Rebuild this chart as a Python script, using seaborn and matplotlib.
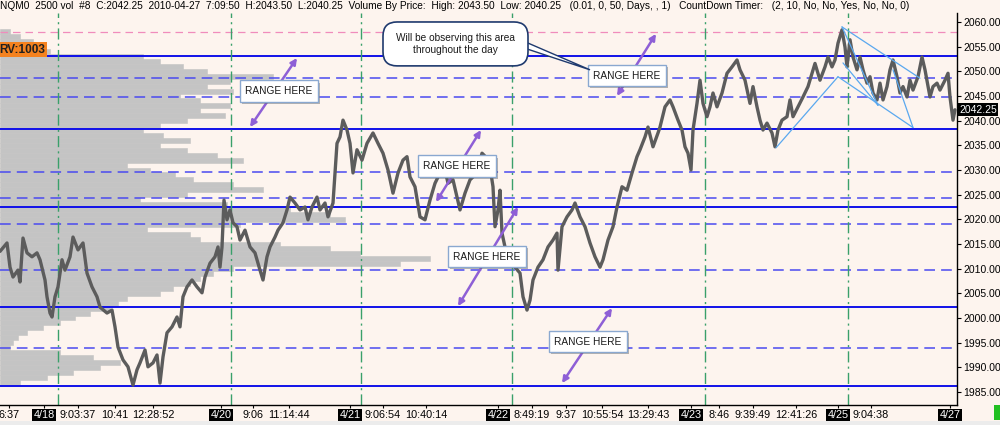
import numpy as np
import pandas as pd
import matplotlib
matplotlib.use("Agg")
import matplotlib.pyplot as plt
import matplotlib.patheffects as pe
from matplotlib.patches import FancyBboxPatch, Polygon, Rectangle
import seaborn as sns

# ---------------- data ----------------
bar_idx = [0, 7, 10, 13, 18, 20, 23, 27, 32, 37, 40, 43, 45, 47, 50, 52, 55, 58, 62, 65,
           70, 73, 78, 83, 87, 92, 97, 100, 107, 112, 115, 118, 123, 128, 133, 137, 140, 145, 148, 153,
           157, 160, 163, 167, 172, 177, 180, 183, 187, 192, 197, 202, 205, 210, 215, 218, 220, 222, 224, 227,
           230, 233, 237, 240, 245, 250, 255, 260, 263, 267, 270, 275, 278, 283, 287, 290, 295, 300, 305, 308,
           312, 317, 320, 325, 328, 333, 337, 340, 343, 347, 350, 353, 357, 362, 367, 373, 378, 383, 388, 393,
           398, 403, 407, 410, 415, 420, 425, 430, 435, 440, 445, 448, 453, 457, 460, 465, 470, 477, 482, 487,
           490, 493, 495, 498, 500, 502, 505, 510, 515, 520, 523, 527, 530, 533, 538, 543, 548, 553, 557, 558,
           562, 567, 572, 575, 580, 585, 590, 595, 600, 603, 608, 613, 617, 622, 627, 632, 637, 640, 645, 648,
           653, 658, 660, 665, 670, 673, 678, 682, 685, 688, 691, 693, 697, 700, 703, 707, 710, 713, 717, 722,
           727, 732, 737, 740, 745, 750, 753, 757, 760, 763, 767, 772, 775, 778, 782, 787, 790, 793, 798, 803,
           808, 812, 815, 820, 825, 828, 832, 835, 838, 842, 845, 847, 850, 853, 857, 860, 863, 867, 870, 873,
           877, 880, 883, 887, 890, 893, 897, 900, 903, 907, 910, 913, 918, 922, 925, 930, 933, 937, 940, 945,
           948, 950, 953, 955]
price = [2013.5, 2015.2, 2010.3, 2008.3, 2009.7, 2007.3, 2016.2, 2013.2, 2012.4, 2013.2, 2011.8, 2009.3, 2007.7, 2004.3, 2001.0, 2000.2, 2004.3, 2006.3, 2011.8, 2009.7,
         2012.4, 2016.4, 2013.8, 2015.2, 2009.1, 2006.3, 2004.3, 2002.2, 2001.0, 2001.6, 1998.2, 1994.1, 1991.5, 1990.1, 1986.4, 1989.5, 1990.9, 1993.5, 1990.1, 1990.9,
         1992.5, 1986.8, 1992.1, 1997.0, 1998.2, 2000.2, 1998.2, 2004.3, 2006.3, 2007.7, 2006.3, 2005.1, 2008.3, 2011.1, 2012.4, 2014.4, 2010.3, 2014.4, 2023.9, 2019.9,
         2021.9, 2019.3, 2018.5, 2015.8, 2017.8, 2014.4, 2013.2, 2009.7, 2007.7, 2012.4, 2014.4, 2016.4, 2017.8, 2019.3, 2021.9, 2024.5, 2023.3, 2021.9, 2022.5, 2019.9,
         2022.5, 2024.5, 2021.9, 2023.3, 2020.5, 2023.3, 2035.4, 2036.7, 2040.1, 2038.1, 2035.4, 2029.4, 2034.1, 2032.0, 2035.4, 2037.5, 2035.4, 2033.4, 2030.0, 2025.3,
         2029.4, 2032.0, 2032.7, 2028.6, 2026.6, 2020.5, 2019.9, 2023.9, 2027.3, 2029.4, 2030.0, 2027.3, 2028.0, 2024.5, 2021.9, 2025.3, 2028.0, 2029.4, 2033.4, 2032.4,
         2030.6, 2026.6, 2018.5, 2021.9, 2025.9, 2017.2, 2014.4, 2011.8, 2010.3, 2009.1, 2004.3, 2001.6, 2003.6, 2007.7, 2010.3, 2011.8, 2014.4, 2015.8, 2017.2, 2009.7,
         2018.5, 2020.5, 2021.9, 2023.3, 2020.5, 2018.5, 2015.2, 2012.4, 2010.3, 2011.8, 2015.8, 2018.5, 2022.5, 2026.6, 2025.9, 2029.4, 2032.7, 2034.1, 2036.7, 2038.7,
         2034.7, 2037.5, 2038.7, 2042.8, 2044.2, 2042.8, 2040.1, 2038.1, 2034.7, 2033.4, 2030.0, 2038.1, 2043.5, 2048.2, 2043.5, 2040.8, 2042.8, 2045.6, 2042.8, 2045.6,
         2049.6, 2050.9, 2052.3, 2050.3, 2048.2, 2043.5, 2046.9, 2042.8, 2040.1, 2038.1, 2039.5, 2037.5, 2034.7, 2038.1, 2040.1, 2040.8, 2044.2, 2040.8, 2042.8, 2044.8,
         2046.9, 2049.6, 2051.6, 2048.2, 2050.9, 2052.9, 2050.9, 2052.3, 2055.7, 2058.4, 2054.9, 2050.9, 2056.4, 2052.9, 2050.3, 2052.9, 2050.3, 2047.6, 2048.9, 2045.6,
         2044.2, 2047.6, 2044.2, 2046.9, 2050.3, 2052.3, 2048.9, 2045.6, 2046.9, 2044.8, 2048.2, 2046.2, 2048.9, 2052.9, 2050.3, 2044.8, 2046.9, 2047.6, 2046.2, 2048.2,
         2049.6, 2044.8, 2040.1, 2042.2]

profile_price = [2058, 2057, 2056, 2055, 2054, 2053, 2052, 2051, 2050, 2049, 2048, 2047, 2046, 2045, 2044, 2043, 2042, 2041, 2040, 2039,
                 2038, 2037, 2036, 2035, 2034, 2033, 2032, 2031, 2030, 2029, 2028, 2027, 2026, 2025, 2024, 2023, 2022, 2021, 2020, 2019,
                 2018, 2017, 2016, 2015, 2014, 2013, 2012, 2011, 2010, 2009, 2008, 2007, 2006, 2005, 2004, 2003, 2002, 2001, 2000, 1999,
                 1998, 1997, 1996, 1995, 1994, 1993, 1992, 1991, 1990, 1989, 1988, 1987]
profile_volume = [10, 20, 33, 40, 50, 143, 160, 183, 207, 273, 230, 207, 233, 180, 200, 230, 200, 225, 187, 160,
                  143, 163, 190, 160, 187, 217, 243, 127, 150, 175, 193, 233, 263, 187, 140, 227, 290, 330, 345, 240,
                  147, 190, 200, 280, 330, 360, 430, 400, 233, 213, 200, 190, 173, 160, 127, 118, 110, 90, 75, 60,
                  43, 27, 18, 13, 10, 60, 93, 120, 100, 73, 47, 20]

solid_levels = [2053.1, 2038.3, 2022.5, 2002.2, 1986.2]
dashed_levels = [2048.6, 2044.7, 2029.6, 2024.3, 2019.1, 2009.8, 1993.9]
pink_levels = [2058.0]
session_breaks = [58, 231, 361, 512, 705, 848]

time_ticks = [9, 78, 115, 153, 253, 289, 383, 426, 532, 566, 602, 648, 719, 753, 796, 871]
time_labels = ["6:37", "9:03:37", "10:41", "12:28:52", "9:06", "11:14:44", "9:06:54", "10:40:14",
               "8:49:19", "9:37", "10:55:54", "13:29:43", "8:46", "9:39:49", "12:41:26", "9:04:38"]
date_ticks = [44, 221, 350, 498, 691, 838, 950]
date_labels = ["4/18", "4/20", "4/21", "4/22", "4/23", "4/25", "4/27"]
price_ticks = [1985, 1990, 1995, 2000, 2005, 2010, 2015, 2020, 2025, 2030, 2035, 2040, 2045, 2050, 2055, 2060]
last_price = 2042.25

header = ("NQM0  2500 vol  #8  C:2042.25  2010-04-27  7:09:50  H:2043.50  L:2040.25  Volume By Price:  "
          "High: 2043.50  Low: 2040.25   (0.01, 0, 50, Days, , 1)   CountDown Timer:   (2, 10, No, No, Yes, No, No, 0)")

# annotations (bar index, price)
range_boxes = [(279, 2046.0), (457, 2030.8), (487, 2012.4), (588, 1995.2), (627, 2049.1)]
range_arrows = [((250, 2038.7), (297, 2052.7)), ((436, 2023.5), (481, 2038.1)),
                ((458, 2002.4), (518, 2022.5)), ((562, 1986.8), (612, 2002.0)),
                ((617, 2045.0), (656, 2057.6))]
trend_lines = [((776, 2034.5), (838, 2048.9)), ((838, 2048.9), (913, 2038.6)),
               ((842, 2059.0), (920, 2048.6)), ((842, 2059.0), (878, 2043.1)),
               ((843, 2051.7), (878, 2043.1)), ((893, 2050.3), (913, 2038.6))]

# ---------------- style ----------------
BG = "#fdf4ee"
sns.set_theme(style="white")
plt.rcParams["font.family"] = ["Liberation Sans", "DejaVu Sans"]

fig = plt.figure(figsize=(10, 4.25), dpi=100, facecolor=BG)
ax = fig.add_axes([0, 20 / 425, 957 / 1000, 392 / 425])
ax.set_facecolor(BG)

# volume profile
ax.barh(profile_price, profile_volume, height=1.0, left=0, color="#c4c4c4",
        edgecolor="#c4c4c4", linewidth=0.4, zorder=1)

# levels
for lv in solid_levels:
    ax.axhline(lv, color="#1010e8", lw=1.4, zorder=2)
for lv in dashed_levels:
    ax.axhline(lv, color="#4a4af0", lw=1.1, dashes=(7, 4), zorder=2)
for lv in pink_levels:
    ax.axhline(lv, color="#f08cbc", lw=0.9, dashes=(6, 4), zorder=2)
for sb in session_breaks:
    ax.axvline(sb, color="#3aa06a", lw=1.0, dashes=(8, 3, 1.5, 3), zorder=2)

# price
df = pd.DataFrame({"bar": bar_idx, "price": price})
sns.lineplot(data=df, x="bar", y="price", ax=ax, color="#5c5c5c", lw=2.4, sort=False,
             estimator=None, zorder=3)

ax.set_xlim(0, 957)
ax.set_ylim(1982.36, 2061.82)
ax.set_xlabel("")
ax.set_ylabel("")

for s in ["top", "left"]:
    ax.spines[s].set_visible(False)
for s in ["right", "bottom"]:
    ax.spines[s].set_color("black")
    ax.spines[s].set_linewidth(1.0)

ax.yaxis.tick_right()
ax.set_yticks(price_ticks, [f"{v:.2f}" for v in price_ticks])
ax.tick_params(axis="y", direction="out", length=3, width=0.8, pad=1.5, labelsize=7.5,
               colors="black", right=True, left=False)

xt = time_ticks + date_ticks
xl = time_labels + date_labels
ax.set_xticks(xt, xl)
ax.tick_params(axis="x", direction="out", length=2, width=0.8, pad=1.5, labelsize=7.8,
               colors="black", bottom=True)
for lab in ax.get_xticklabels():
    if lab.get_text() in date_labels:
        lab.set_color("white")
        lab.set_bbox(dict(facecolor="black", edgecolor="none", pad=0.8))

ax.text(959, last_price, f"{last_price:.2f}", transform=ax.transData, ha="left", va="center",
        fontsize=7.5, color="white", clip_on=False,
        bbox=dict(facecolor="black", edgecolor="none", pad=0.8), zorder=6)

ax.text(-1, 2054.4, "RV:1003", ha="left", va="center", fontsize=8.5, fontweight="bold",
        color="#202020", zorder=6,
        bbox=dict(facecolor="#f5821f", edgecolor="none", boxstyle="square,pad=0.15"))

for (x0, y0), (x1, y1) in trend_lines:
    ax.plot([x0, x1], [y0, y1], color="#5aa8ee", lw=0.9, zorder=4)

for (x0, y0), (x1, y1) in range_arrows:
    ax.annotate("", xy=(x1, y1), xytext=(x0, y0),
                arrowprops=dict(arrowstyle="<|-|>", color="#8e5fd6", lw=1.8,
                                mutation_scale=9, shrinkA=0, shrinkB=0), zorder=5)

for (cx, cy) in range_boxes:
    t = ax.text(cx, cy, "RANGE HERE", ha="center", va="center", fontsize=7.3, color="#1a1a1a",
                zorder=7, bbox=dict(facecolor="white", edgecolor="#8aa8d0", lw=1.0,
                                    boxstyle="square,pad=0.55"))
    t.get_bbox_patch().set_path_effects([pe.SimplePatchShadow(offset=(1.5, -1.5), alpha=0.4),
                                         pe.Normal()])

tail = Polygon([(526, 2055.9), (526, 2054.6), (590, 2050.3)], closed=True,
               facecolor="white", edgecolor="#1f3a6e", lw=1.0, zorder=7)
ax.add_patch(tail)
call = FancyBboxPatch((383, 2051.1), 145, 8.9, boxstyle="round,pad=0,rounding_size=14",
                      mutation_aspect=1 / 4.933, facecolor="white", edgecolor="#1f3a6e",
                      lw=1.2, zorder=8)
ax.add_patch(call)
ax.text(455.5, 2055.6, "Will be observing this area\nthroughout the day", ha="center", va="center",
        fontsize=7.3, color="#1a1a1a", linespacing=1.25, zorder=9)

fig.text(0.0, 1 - 6 / 425, header, ha="left", va="center", fontsize=7.25, color="black")

fig.patches.append(Rectangle((0, 0), 1, 4 / 425, transform=fig.transFigure,
                             facecolor="#ececec", edgecolor="none", zorder=0))
fig.patches.append(Rectangle((994 / 1000, 5 / 425), 6 / 1000, 15 / 425, transform=fig.transFigure,
                             facecolor="#22c022", edgecolor="none", zorder=1))

fig.savefig("out.png", dpi=100, facecolor=BG)
